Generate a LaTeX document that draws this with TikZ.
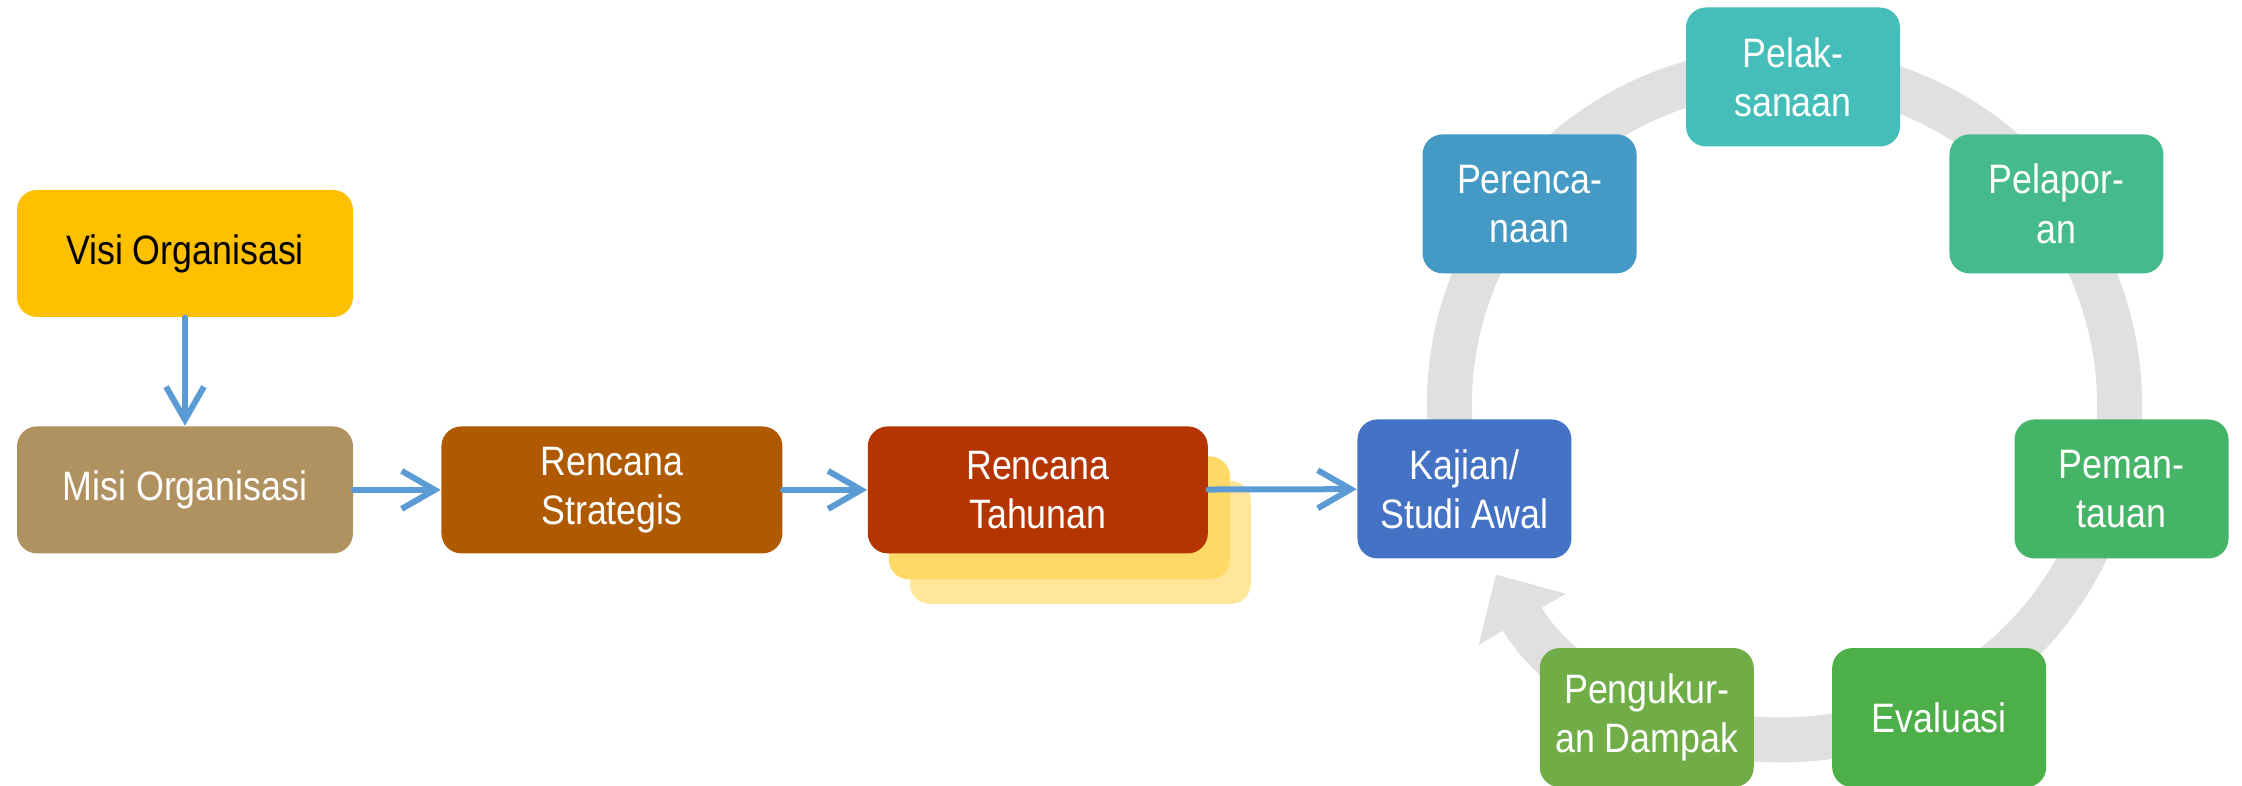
\documentclass[tikz,border=0pt]{standalone}
\usepackage{fontspec}
\setmainfont{Liberation Sans}[FakeStretch=0.87]
\usetikzlibrary{arrows.meta, positioning, backgrounds}
\definecolor{visigold}{HTML}{FFC000}
\definecolor{misitan}{HTML}{B09160}
\definecolor{stratbrown}{HTML}{AF5A00}
\definecolor{tahunred}{HTML}{B43500}
\definecolor{shadeone}{HTML}{FFD966}
\definecolor{shadetwo}{HTML}{FFE699}
\definecolor{kajianblue}{HTML}{4472C4}
\definecolor{rencablue}{HTML}{449AC4}
\definecolor{pelakteal}{HTML}{45BEB9}
\definecolor{laporgreen}{HTML}{45BB8D}
\definecolor{pantaugreen}{HTML}{46B467}
\definecolor{evalgreen}{HTML}{4DAF48}
\definecolor{ukurgreen}{HTML}{70AD47}
\definecolor{arrowblue}{HTML}{5B9BD5}
\definecolor{ringgray}{HTML}{E0E0E0}
\tikzset{
  box/.style={
    rectangle, rounded corners=0.2cm, fill=#1, text=white,
    align=center, inner sep=0pt, minimum width=3.36cm, minimum height=1.27cm,
    font=\fontsize{11.7}{14}\selectfont
  },
  cbox/.style={
    rectangle, rounded corners=0.2cm, fill=#1, text=white,
    align=center, inner sep=0pt, minimum width=2.14cm, minimum height=1.39cm,
    font=\fontsize{11.7}{14}\selectfont
  },
  shadowbox/.style={
    rectangle, rounded corners=0.2cm, fill=#1,
    minimum width=3.41cm, minimum height=1.23cm
  },
  arrow/.style={-{Straight Barb[length=0.33cm, width=0.38cm]},
    line width=0.06cm, line cap=round, draw=arrowblue},
  ring/.style={-{Triangle[length=0.52cm, width=0.98cm]},
    line width=0.45cm, draw=ringgray}
}

\begin{document}
\begin{tikzpicture}
    \useasboundingbox (0,0) rectangle (22.42,-7.86);
    \coordinate (rc) at (17.93,-4.14);
    \coordinate (ringc) at (17.845,-4.045);

    % Siklus: lingkaran abu-abu di belakang
    \draw[ring] (ringc) ++(196:3.35) arc[start angle=196, end angle=-149.5, radius=3.35];

    % Rantai kiri
    \node[box=visigold, text=black] (visi) at (1.85,-2.535) {Visi Organisasi};
    \node[box=misitan, below=1.08cm of visi] (misi) {Misi Organisasi};
    \node[box=stratbrown, right=0.87cm of misi, minimum width=3.41cm] (strat)
      {Rencana\\Strategis};
    \node[box=tahunred, right=0.84cm of strat, minimum width=3.40cm] (tahun)
      {Rencana\\Tahunan};

    % Tumpukan di belakang Rencana Tahunan
    \begin{scope}[on background layer]
      \node[shadowbox=shadetwo] (sh2) at ([shift={(0.425,-0.525)}]tahun) {};
      \node[shadowbox=shadeone] (sh1) at ([shift={(0.215,-0.28)}]tahun) {};
    \end{scope}

    % Kotak siklus
    \foreach \i/\nm/\col/\txt in {0/pelak/pelakteal/{Pelak-\\sanaan},
        1/lapor/laporgreen/{Pelapor-\\an},
        2/pantau/pantaugreen/{Peman-\\tauan},
        3/evalu/evalgreen/{Evaluasi},
        4/ukur/ukurgreen/{Pengukur-\\an Dampak},
        5/kajian/kajianblue/{Kajian/\\Studi Awal},
        6/renca/rencablue/{Perenca-\\naan}}{%
      \node[cbox=\col] (\nm) at ([shift={(90-\i*51.43:3.37)}]rc) {\txt};}

    % Panah
    \draw[arrow] (visi) -- (misi);
    \foreach \a/\b in {misi/strat, strat/tahun, tahun/kajian}{%
      \draw[arrow] (\a) -- (\b);}
\end{tikzpicture}
\end{document}
